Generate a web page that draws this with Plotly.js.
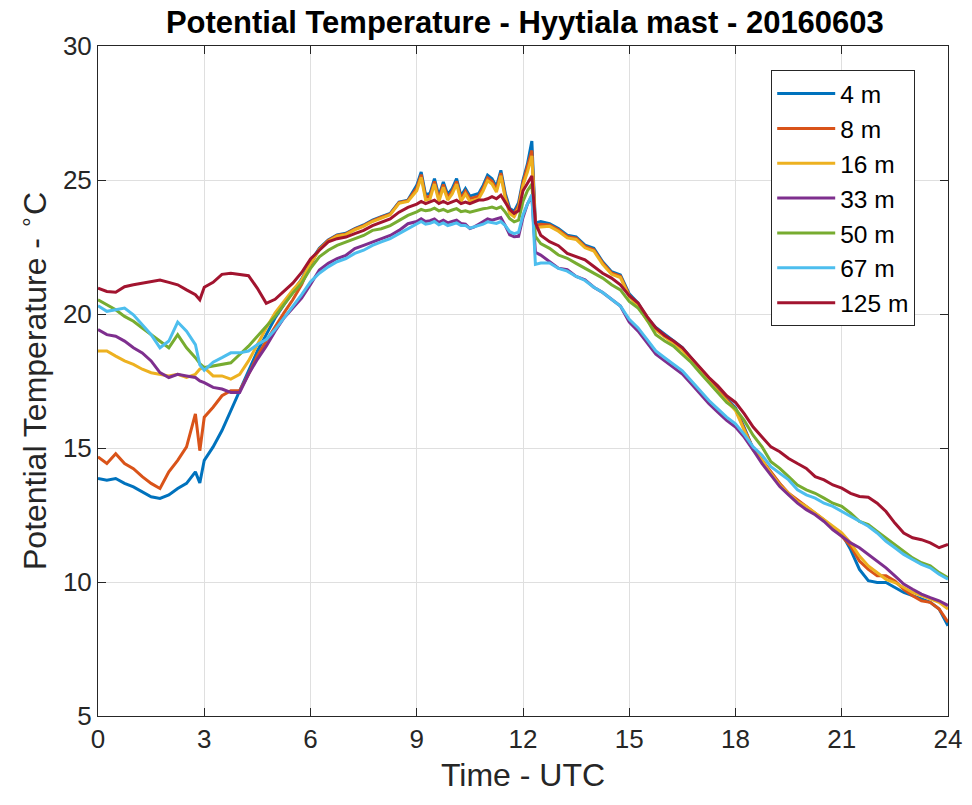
<!DOCTYPE html>
<html>
<head>
<meta charset="utf-8">
<script src="https://cdn.plot.ly/plotly-3.0.1.min.js"></script>
<style>
  html, body { margin: 0; padding: 0; background: #ffffff; }
  #chart { width: 972px; height: 805px; }
</style>
</head>
<body>
<div id="chart"></div>
<script>
// Time (hours UTC)
const timeUTC = [
  0, 0.25, 0.5, 0.75, 1, 1.25, 1.5, 1.75, 2, 2.25, 2.5, 2.75, 2.875, 3, 3.25, 3.5, 3.75, 4, 4.25, 4.5,
  4.75, 5, 5.25, 5.5, 5.75, 6, 6.25, 6.5, 6.75, 7, 7.25, 7.5, 7.75, 8, 8.25, 8.5, 8.75,
  9, 9.125, 9.25, 9.375, 9.5, 9.625, 9.75, 9.875, 10, 10.125, 10.25, 10.375, 10.5, 10.625, 10.75, 10.875,
  11, 11.125, 11.25, 11.375, 11.5, 11.625, 11.75, 11.875, 12,
  12.125, 12.25, 12.35, 12.5,
  12.75, 13, 13.25, 13.5, 13.75, 14, 14.25, 14.5, 14.75, 15, 15.25, 15.5, 15.75, 16, 16.25, 16.5, 16.75,
  17, 17.25, 17.5, 17.75, 18, 18.25, 18.5, 18.75, 19, 19.25, 19.5, 19.75, 20, 20.25, 20.5, 20.75,
  21, 21.25, 21.5, 21.75, 22, 22.25, 22.5, 22.75, 23, 23.25, 23.5, 23.75, 24
];

const theta4m = [
  13.86, 13.8, 13.86, 13.68, 13.55, 13.37, 13.18, 13.12, 13.25, 13.49, 13.68, 14.11, 13.7, 14.54, 15.04, 15.65, 16.39, 17.14, 17.88, 18.62,
  19.23, 19.85, 20.35, 20.84, 21.3, 21.95, 22.45, 22.76, 22.95, 23.01, 23.19, 23.32, 23.5, 23.63, 23.75, 24.18, 24.25,
  24.8, 25.3, 24.45, 24.5, 25.05, 24.4, 24.93, 24.45, 24.68, 25.05, 24.4, 24.68, 24.4, 24.45, 24.5, 24.8,
  25.18, 25.05, 24.75, 25.36, 24.5, 23.95, 23.83, 24.15, 25.0,
  25.6, 26.45, 23.4, 23.45,
  23.37, 23.19, 22.94, 22.88, 22.57, 22.45, 21.95, 21.58, 21.46, 20.75, 20.4, 19.86, 19.5, 19.24, 19.0, 18.75, 18.35,
  17.95, 17.57, 17.2, 16.83, 16.5, 15.75, 14.95, 14.52, 14.08, 13.65, 13.28, 13.03, 12.8, 12.55, 12.3, 12.0,
  11.8, 11.21, 10.47, 10.05, 9.98, 9.98, 9.79, 9.61, 9.49, 9.36, 9.24, 8.99, 8.37
];

const theta8m = [
  14.67, 14.42, 14.79, 14.42, 14.23, 13.93, 13.68, 13.49, 14.11, 14.54, 15.04, 16.27, 14.9, 16.15, 16.52, 16.95, 17.14, 17.14, 17.75, 18.43,
  18.99, 19.54, 20.04, 20.53, 21.1, 21.85, 22.43, 22.74, 22.93, 22.99, 23.17, 23.3, 23.48, 23.61, 23.73, 24.16, 24.23,
  24.7, 25.2, 24.35, 24.4, 24.95, 24.3, 24.83, 24.35, 24.58, 24.95, 24.3, 24.58, 24.3, 24.35, 24.4, 24.7,
  25.08, 24.95, 24.65, 25.26, 24.4, 23.85, 23.73, 24.05, 24.9,
  25.5, 26.1, 23.3, 23.35,
  23.32, 23.14, 22.89, 22.83, 22.52, 22.4, 21.9, 21.53, 21.41, 20.7, 20.35, 19.81, 19.45, 19.19, 18.95, 18.7, 18.3,
  17.9, 17.52, 17.15, 16.78, 16.45, 15.7, 14.98, 14.55, 14.11, 13.68, 13.31, 13.06, 12.82, 12.57, 12.32, 12.02,
  11.71, 11.34, 10.78, 10.47, 10.23, 10.23, 10.04, 9.73, 9.49, 9.3, 9.24, 8.99, 8.5
];

const theta16m = [
  18.62, 18.62, 18.43, 18.25, 18.12, 17.94, 17.81, 17.75, 17.69, 17.75, 17.63, 17.75, 17.95, 18.0, 17.69, 17.69, 17.57, 17.75, 18.25, 18.86,
  19.48, 20.04, 20.47, 20.9, 21.27, 21.9, 22.4, 22.71, 22.9, 22.96, 23.14, 23.27, 23.45, 23.58, 23.7, 24.13, 24.2,
  24.6, 25.1, 24.25, 24.3, 24.85, 24.2, 24.73, 24.25, 24.48, 24.85, 24.2, 24.48, 24.2, 24.25, 24.3, 24.6,
  24.98, 24.85, 24.55, 25.16, 24.3, 23.75, 23.63, 23.95, 24.8,
  25.3, 25.9, 23.2, 23.25,
  23.27, 23.09, 22.84, 22.78, 22.47, 22.35, 21.85, 21.48, 21.36, 20.65, 20.3, 19.76, 19.4, 19.14, 18.9, 18.65, 18.25,
  17.85, 17.47, 17.1, 16.73, 16.4, 15.65, 14.92, 14.55, 14.05, 13.62, 13.31, 13.0, 12.82, 12.57, 12.32, 12.08,
  11.83, 11.46, 10.97, 10.6, 10.35, 10.1, 9.98, 9.79, 9.61, 9.49, 9.36, 9.24, 8.99
];

const theta33m = [
  19.42, 19.23, 19.17, 18.99, 18.74, 18.55, 18.25, 17.81, 17.63, 17.75, 17.69, 17.63, 17.5, 17.44, 17.26, 17.2, 17.07, 17.07, 17.75, 18.31,
  18.8, 19.36, 19.85, 20.22, 20.59, 21.1, 21.64, 21.89, 22.07, 22.19, 22.44, 22.56, 22.69, 22.81, 22.93, 23.12, 23.37,
  23.45, 23.55, 23.45, 23.48, 23.55, 23.42, 23.5, 23.4, 23.45, 23.5, 23.38, 23.35, 23.19, 23.25, 23.35, 23.45,
  23.55, 23.5, 23.55, 23.6, 23.3, 22.95, 22.88, 22.9, 23.6,
  24.1, 24.4, 22.3, 22.2,
  21.95, 21.71, 21.65, 21.4, 21.28, 21.0, 20.8, 20.55, 20.3, 19.7, 19.36, 18.93, 18.5, 18.25, 18.0, 17.76, 17.4,
  17.02, 16.65, 16.34, 16.03, 15.78, 15.4, 14.92, 14.42, 13.99, 13.56, 13.25, 12.94, 12.7, 12.51, 12.26, 11.95,
  11.71, 11.46, 11.28, 11.03, 10.78, 10.53, 10.23, 9.92, 9.73, 9.55, 9.42, 9.3, 9.12
];

const theta50m = [
  20.53, 20.35, 20.16, 19.91, 19.73, 19.48, 19.23, 18.99, 18.74, 19.23, 18.74, 18.37, 18.15, 18.0, 18.06, 18.12, 18.18, 18.49, 18.8, 19.17,
  19.54, 19.91, 20.35, 20.78, 21.15, 21.7, 22.13, 22.38, 22.56, 22.69, 22.81, 22.93, 23.12, 23.18, 23.3, 23.49, 23.68,
  23.81, 23.9, 23.85, 23.88, 23.95, 23.85, 23.9, 23.82, 23.88, 23.93, 23.82, 23.85, 23.8, 23.85, 23.9, 23.93,
  23.95, 23.99, 23.93, 24.0, 23.8, 23.56, 23.44, 23.5, 24.2,
  24.6, 24.85, 22.9, 22.63,
  22.45, 22.2, 22.08, 21.89, 21.71, 21.52, 21.34, 21.09, 20.9, 20.47, 20.22, 19.79, 19.23, 18.99, 18.8, 18.49, 18.19,
  17.81, 17.44, 17.07, 16.7, 16.46, 16.02, 15.47, 15.04, 14.49, 14.24, 13.93, 13.62, 13.44, 13.31, 13.13, 12.94,
  12.82, 12.57, 12.26, 12.14, 11.89, 11.65, 11.4, 11.15, 10.9, 10.72, 10.6, 10.35, 10.16
];

const theta67m = [
  20.31, 20.1, 20.16, 20.22, 19.97, 19.6, 19.23, 18.74, 18.99, 19.7, 19.36, 18.86, 18.1, 17.9, 18.2, 18.37, 18.55, 18.55, 18.62, 18.86,
  19.05, 19.42, 19.85, 20.28, 20.72, 21.2, 21.52, 21.76, 21.95, 22.07, 22.26, 22.38, 22.56, 22.69, 22.81, 23.0, 23.18,
  23.35, 23.45, 23.35, 23.38, 23.45, 23.33, 23.4, 23.3, 23.35, 23.4, 23.3, 23.3, 23.2, 23.25, 23.3, 23.35,
  23.44, 23.4, 23.38, 23.45, 23.3, 23.07, 23.0, 23.05, 23.7,
  24.1, 24.45, 21.85, 21.9,
  21.9, 21.7, 21.6, 21.4, 21.25, 21.0, 20.8, 20.55, 20.3, 19.8, 19.48, 19.05, 18.62, 18.37, 18.12, 17.88, 17.51,
  17.14, 16.77, 16.46, 16.15, 15.9, 15.5, 15.04, 14.73, 14.3, 14.05, 13.81, 13.44, 13.25, 13.13, 12.94, 12.82,
  12.63, 12.45, 12.26, 12.08, 11.83, 11.52, 11.28, 11.03, 10.84, 10.66, 10.53, 10.29, 10.1
];

const theta125m = [
  20.96, 20.84, 20.81, 21.02, 21.09, 21.15, 21.23, 21.27, 21.18, 21.09, 20.9, 20.72, 20.53, 21.0, 21.18, 21.48, 21.52, 21.48, 21.43, 20.96,
  20.4, 20.55, 20.84, 21.15, 21.55, 22.05, 22.38, 22.69, 22.81, 22.87, 23.0, 23.12, 23.3, 23.43, 23.55, 23.8, 23.98,
  24.1, 24.2, 24.12, 24.18, 24.25, 24.12, 24.2, 24.12, 24.18, 24.25, 24.12, 24.18, 24.12, 24.18, 24.25, 24.25,
  24.3, 24.38, 24.3, 24.43, 24.18, 23.9, 23.75, 23.85, 24.6,
  24.9, 25.15, 23.4, 22.94,
  22.7, 22.55, 22.26, 22.14, 22.02, 21.77, 21.52, 21.34, 21.09, 20.68, 20.41, 19.91, 19.48, 19.2, 18.99, 18.74, 18.37,
  18.0, 17.63, 17.32, 16.95, 16.7, 16.27, 15.78, 15.41, 15.04, 14.86, 14.61, 14.42, 14.24, 13.93, 13.81, 13.62,
  13.5, 13.31, 13.19, 13.16, 12.94, 12.63, 12.2, 11.83, 11.65, 11.58, 11.46, 11.28, 11.4
];

const seriesNames = ['4 m', '8 m', '16 m', '33 m', '50 m', '67 m', '125 m'];
const seriesValues = [theta4m, theta8m, theta16m, theta33m, theta50m, theta67m, theta125m];
const seriesColors = ['#0072BD', '#D95319', '#EDB120', '#7E2F8E', '#77AC30', '#4DBEEE', '#A2142F'];

const xTicks = [0, 3, 6, 9, 12, 15, 18, 21, 24];
const yTicks = [5, 10, 15, 20, 25, 30];

const traces = seriesNames.map((name, i) => ({
  type: 'scatter',
  mode: 'lines',
  name: name,
  x: timeUTC,
  y: seriesValues[i],
  line: { color: seriesColors[i], width: 3 },
  hoverinfo: 'x+y+name'
}));

const FAMILY = 'Liberation Sans, Arial, Helvetica, sans-serif';
const tickFont = { family: FAMILY, size: 26, color: '#262626' };
const labelFont = { family: FAMILY, size: 32, color: '#262626' };

const layout = {
  width: 972,
  height: 805,
  paper_bgcolor: '#ffffff',
  plot_bgcolor: '#ffffff',
  margin: { l: 98, r: 24, t: 46, b: 89, pad: 0 },
  font: tickFont,
  title: {
    text: '<b>Potential Temperature - Hyytiala mast - 20160603</b>',
    font: { family: FAMILY, size: 31, color: '#000000' },
    x: 0.54, xanchor: 'center',
    y: 0.973, yanchor: 'middle'
  },
  xaxis: {
    range: [0, 24],
    tickvals: xTicks,
    ticktext: xTicks.map(String),
    ticks: 'inside', ticklen: 8, tickcolor: '#262626', tickwidth: 1,
    showline: true, linecolor: '#262626', linewidth: 1, mirror: 'ticks',
    showgrid: true, gridcolor: '#dfdfdf', gridwidth: 1,
    zeroline: false,
    tickfont: tickFont,
    title: { text: 'Time - UTC', font: labelFont, standoff: 10 }
  },
  yaxis: {
    range: [5, 30],
    tickvals: yTicks,
    ticktext: yTicks.map(String),
    ticks: 'inside', ticklen: 8, tickcolor: '#262626', tickwidth: 1,
    showline: true, linecolor: '#262626', linewidth: 1, mirror: 'ticks',
    showgrid: true, gridcolor: '#dfdfdf', gridwidth: 1,
    zeroline: false,
    tickfont: tickFont,
    title: { text: 'Potential Temperature - <sup>∘</sup>C', font: labelFont, standoff: 6 }
  },
  legend: {
    x: 0.792, xanchor: 'left',
    y: 0.964, yanchor: 'top',
    bgcolor: '#ffffff',
    bordercolor: '#262626',
    borderwidth: 1,
    font: { family: FAMILY, size: 24.5, color: '#000000' },
    itemwidth: 58,
    entrywidth: 140,
    entrywidthmode: 'pixels',
    traceorder: 'normal'
  },
  showlegend: true
};

Plotly.newPlot('chart', traces, layout, { displayModeBar: false, staticPlot: true });
</script>
</body>
</html>
